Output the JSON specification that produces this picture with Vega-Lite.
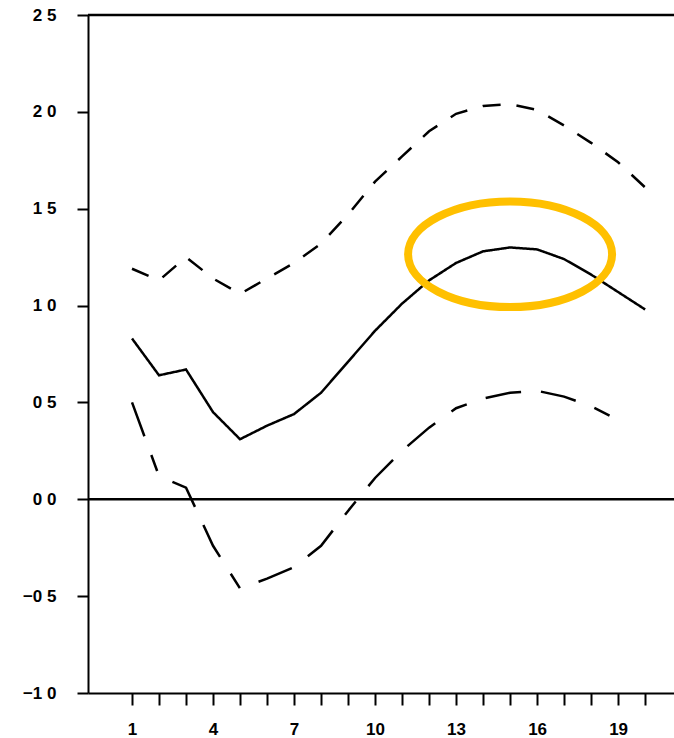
{
  "$schema": "https://vega.github.io/schema/vega-lite/v6.json",
  "width": 586,
  "height": 678,
  "autosize": {"type": "none"},
  "padding": {"left": 88, "top": 15, "right": 0, "bottom": 45},
  "background": "white",
  "config": {
    "view": {"stroke": null},
    "axis": {
      "domainColor": "black", "domainWidth": 2, "tickColor": "black", "tickWidth": 2,
      "labelColor": "black", "labelFont": "Liberation Sans", "labelFontWeight": "bold",
      "labelFontSize": 17, "grid": false, "title": null, "labelOverlap": false
    }
  },
  "datasets": {
    "lines": [
      {"step": 1, "series": "mid", "value": 0.83}, {"step": 2, "series": "mid", "value": 0.64},
      {"step": 3, "series": "mid", "value": 0.67}, {"step": 4, "series": "mid", "value": 0.45},
      {"step": 5, "series": "mid", "value": 0.31}, {"step": 6, "series": "mid", "value": 0.38},
      {"step": 7, "series": "mid", "value": 0.44}, {"step": 8, "series": "mid", "value": 0.55},
      {"step": 9, "series": "mid", "value": 0.71}, {"step": 10, "series": "mid", "value": 0.87},
      {"step": 11, "series": "mid", "value": 1.01}, {"step": 12, "series": "mid", "value": 1.13},
      {"step": 13, "series": "mid", "value": 1.22}, {"step": 14, "series": "mid", "value": 1.28},
      {"step": 15, "series": "mid", "value": 1.30}, {"step": 16, "series": "mid", "value": 1.29},
      {"step": 17, "series": "mid", "value": 1.24}, {"step": 18, "series": "mid", "value": 1.16},
      {"step": 19, "series": "mid", "value": 1.07}, {"step": 20, "series": "mid", "value": 0.98},
      {"step": 1, "series": "upper", "value": 1.19}, {"step": 2, "series": "upper", "value": 1.13},
      {"step": 3, "series": "upper", "value": 1.25}, {"step": 4, "series": "upper", "value": 1.14},
      {"step": 5, "series": "upper", "value": 1.06}, {"step": 6, "series": "upper", "value": 1.14},
      {"step": 7, "series": "upper", "value": 1.22}, {"step": 8, "series": "upper", "value": 1.32},
      {"step": 9, "series": "upper", "value": 1.47}, {"step": 10, "series": "upper", "value": 1.64},
      {"step": 11, "series": "upper", "value": 1.77}, {"step": 12, "series": "upper", "value": 1.90},
      {"step": 13, "series": "upper", "value": 1.99}, {"step": 14, "series": "upper", "value": 2.03},
      {"step": 15, "series": "upper", "value": 2.04}, {"step": 16, "series": "upper", "value": 2.01},
      {"step": 17, "series": "upper", "value": 1.93}, {"step": 18, "series": "upper", "value": 1.84},
      {"step": 19, "series": "upper", "value": 1.74}, {"step": 20, "series": "upper", "value": 1.61},
      {"step": 1, "series": "lower", "value": 0.50}, {"step": 2, "series": "lower", "value": 0.12},
      {"step": 3, "series": "lower", "value": 0.06}, {"step": 4, "series": "lower", "value": -0.24},
      {"step": 5, "series": "lower", "value": -0.46}, {"step": 6, "series": "lower", "value": -0.41},
      {"step": 7, "series": "lower", "value": -0.35}, {"step": 8, "series": "lower", "value": -0.24},
      {"step": 9, "series": "lower", "value": -0.06}, {"step": 10, "series": "lower", "value": 0.11},
      {"step": 11, "series": "lower", "value": 0.25}, {"step": 12, "series": "lower", "value": 0.37},
      {"step": 13, "series": "lower", "value": 0.47}, {"step": 14, "series": "lower", "value": 0.52},
      {"step": 15, "series": "lower", "value": 0.55}, {"step": 16, "series": "lower", "value": 0.56},
      {"step": 17, "series": "lower", "value": 0.53}, {"step": 18, "series": "lower", "value": 0.48},
      {"step": 19, "series": "lower", "value": 0.41}
    ],
    "rules": [{"level": 0, "kind": "zero"}, {"level": 2.5, "kind": "top"}],
    "highlight": [{"step": 15, "value": 1.265}]
  },
  "layer": [
    {
      "data": {"name": "lines"},
      "mark": {"type": "line", "color": "black", "strokeWidth": 2.5},
      "encoding": {
        "x": {
          "field": "step", "type": "quantitative",
          "scale": {"domain": [-0.63, 21.07], "nice": false, "zero": false},
          "axis": {
            "values": [1,2,3,4,5,6,7,8,9,10,11,12,13,14,15,16,17,18,19,20],
            "tickSize": 12, "labelPadding": 16, "labelOverlap": false, "labelFlush": false,
            "labelFontSize": 17, "labelFontWeight": "bold",
            "labelExpr": "(datum.value - 1) % 3 == 0 ? datum.label : ''"
          }
        },
        "y": {
          "field": "value", "type": "quantitative",
          "scale": {"domain": [-1, 2.5], "nice": false, "zero": false},
          "axis": {
            "values": [-1, -0.5, 0, 0.5, 1, 1.5, 2, 2.5],
            "tickSize": 11, "labelPadding": 21, "labelOverlap": false, "labelFlush": false,
            "labelFontSize": 17, "labelFontWeight": "bold",
            "labelExpr": "replace(format(datum.value, '.1f'), '.', ' ')"
          }
        },
        "detail": {"field": "series"},
        "strokeDash": {
          "field": "series", "type": "nominal",
          "scale": {"domain": ["mid", "upper", "lower"], "range": [[1, 0], [18, 16], [36, 20, 17, 20, 36, 20]]},
          "legend": null
        }
      }
    },
    {
      "data": {"name": "rules"},
      "mark": {"type": "rule", "color": "black", "strokeWidth": 2.5},
      "encoding": {
        "y": {
          "field": "level", "type": "quantitative",
          "scale": {"domain": [-1, 2.5], "nice": false, "zero": false},
          "axis": {
            "values": [-1, -0.5, 0, 0.5, 1, 1.5, 2, 2.5],
            "tickSize": 11, "labelPadding": 21, "labelOverlap": false, "labelFlush": false,
            "labelFontSize": 17, "labelFontWeight": "bold",
            "labelExpr": "replace(format(datum.value, '.1f'), '.', ' ')"
          }
        }
      }
    },
    {
      "data": {"name": "highlight"},
      "mark": {
        "type": "point",
        "shape": "M-1,0A1,0.518,0,1,1,1,0A1,0.518,0,1,1,-1,0Z",
        "size": 41616,
        "filled": false,
        "stroke": "#FFC000",
        "strokeWidth": 8,
        "opacity": 1
      },
      "encoding": {
        "x": {
          "field": "step", "type": "quantitative",
          "scale": {"domain": [-0.63, 21.07], "nice": false, "zero": false},
          "axis": {
            "values": [1,2,3,4,5,6,7,8,9,10,11,12,13,14,15,16,17,18,19,20],
            "tickSize": 12, "labelPadding": 16, "labelOverlap": false, "labelFlush": false,
            "labelFontSize": 17, "labelFontWeight": "bold",
            "labelExpr": "(datum.value - 1) % 3 == 0 ? datum.label : ''"
          }
        },
        "y": {
          "field": "value", "type": "quantitative",
          "scale": {"domain": [-1, 2.5], "nice": false, "zero": false},
          "axis": {
            "values": [-1, -0.5, 0, 0.5, 1, 1.5, 2, 2.5],
            "tickSize": 11, "labelPadding": 21, "labelOverlap": false, "labelFlush": false,
            "labelFontSize": 17, "labelFontWeight": "bold",
            "labelExpr": "replace(format(datum.value, '.1f'), '.', ' ')"
          }
        }
      }
    }
  ]
}
